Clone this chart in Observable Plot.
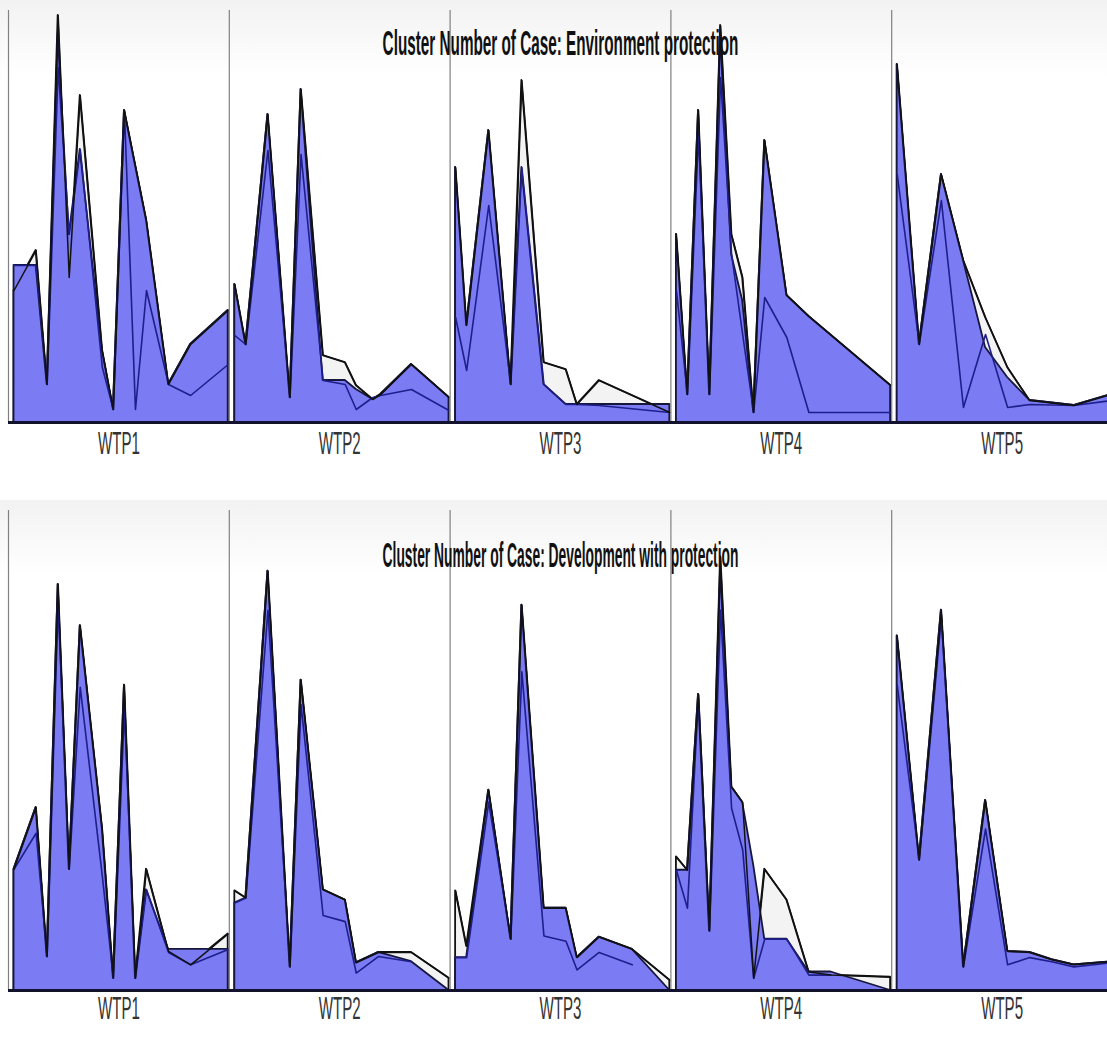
<!DOCTYPE html>
<html><head><meta charset="utf-8">
<script src="https://cdn.jsdelivr.net/npm/d3@7"></script>
<script src="https://cdn.jsdelivr.net/npm/@observablehq/plot@0.6"></script>
<style>
html,body{margin:0;padding:0;background:#fff;overflow:hidden;width:1107px;height:1038px;}
#wrap{width:1112px;}
#wrap svg{display:block;}
</style></head><body><div id="wrap"></div>
<script>
const panelLabels = ["WTP1", "WTP2", "WTP3", "WTP4", "WTP5"];
const clusterTitles = ["Cluster Number of Case: Environment protection", "Cluster Number of Case: Development with protection"];

// Cluster "Environment protection": category positions per panel and three series
const envX = [
  [0.5, 2.5, 3.5, 4.5, 5.5, 6.5, 8.5, 9.5, 10.5, 11.5, 12.5, 14.5, 16.5, 19.9],
  [0.5, 1.5, 3.5, 5.5, 6.5, 8.5, 10.5, 11.5, 13, 13.7, 16.5, 19.9],
  [0.5, 1.5, 3.5, 5.5, 6.5, 8.5, 10.5, 11.5, 13.5, 19.9],
  [0.5, 1.5, 2.5, 3.5, 4.5, 5.5, 6.5, 7.5, 8.5, 10.5, 12.5, 19.9],
  [0.5, 2.5, 4.5, 6.5, 8.5, 10.5, 12.5, 16.5, 19.9]
];
const envA = [
  [132, 172, 38, 407, 145, 327, 72, 13, 312, 257, 202, 38, 78, 112],
  [138, 78, 308, 25, 333, 67, 60, 37, 23, 28, 58, 25],
  [255, 97, 292, 38, 342, 60, 53, 18, 42, 10],
  [188, 28, 312, 28, 397, 188, 145, 10, 282, 127, 106, 37],
  [358, 78, 248, 162, 105, 55, 22, 17, 28]
];
const envB = [
  [157, 157, 38, 388, 188, 273, 72, 13, 312, 257, 202, 38, 78, 112],
  [138, 78, 308, 25, 333, 42, 42, 33, 23, 27, 58, 25],
  [255, 97, 292, 38, 255, 38, 18, 18, 18, 18],
  [188, 28, 312, 28, 388, 168, 122, 10, 282, 127, 106, 37],
  [358, 78, 248, 162, 75, 45, 22, 17, 28]
];
const envC = [
  [157, 157, 38, 355, 188, 273, 55, 13, 312, 13, 132, 38, 27, 58],
  [87, 78, 272, 25, 268, 42, 38, 13, 25, 27, 33, 12],
  [105, 52, 217, 38, 255, 38, 18, 18, 17, 10],
  [132, 28, 288, 28, 345, 168, 88, 10, 125, 85, 10, 10],
  [248, 78, 222, 15, 88, 15, 18, 17, 22]
];

// Cluster "Development with protection"
const devX = [
  [0.5, 2.5, 3.5, 4.5, 5.5, 6.5, 8.5, 9.5, 10.5, 11.5, 12.5, 14.5, 16.5, 19.9],
  [0.5, 1.5, 3.5, 5.5, 6.5, 8.5, 10.5, 11.5, 13.5, 16.5, 19.9],
  [0.5, 1.5, 3.5, 5.5, 6.5, 8.5, 10.5, 11.5, 13.5, 16.5, 19.9],
  [0.5, 1.5, 2.5, 3.5, 4.5, 5.5, 6.5, 7.5, 8.5, 10.5, 12.5, 14.5, 19.9],
  [0.5, 2.5, 4.5, 6.5, 8.5, 10.5, 12.5, 14.5, 16.5, 19.9]
];
const devA = [
  [118, 178, 33, 395, 118, 355, 157, 12, 297, 12, 118, 38, 25, 55],
  [97, 90, 408, 23, 302, 98, 88, 27, 37, 37, 12],
  [97, 43, 195, 50, 375, 80, 80, 32, 52, 40, 10],
  [130, 117, 288, 58, 422, 198, 183, 12, 118, 88, 18, 15, 13],
  [345, 127, 370, 23, 185, 38, 37, 30, 25, 28]
];
const devB = [
  [118, 178, 33, 395, 118, 355, 157, 12, 297, 12, 98, 40, 40, 40],
  [85, 90, 408, 23, 302, 98, 88, 27, 37, 28],
  [32, 32, 195, 50, 375, 80, 80, 32, 52, 40],
  [117, 117, 288, 58, 410, 198, 183, 122, 50, 50, 18, 18],
  [345, 127, 370, 23, 185, 38, 37, 30, 25, 28]
];
const devC = [
  [118, 153, 33, 377, 118, 295, 111, 12, 273, 12, 98, 37, 25, 40],
  [85, 90, 370, 23, 278, 73, 67, 17, 33, 28],
  [32, 32, 183, 50, 310, 53, 48, 20, 37, 25],
  [117, 80, 288, 58, 370, 177, 137, 12, 50, 50, 15, 15],
  [297, 127, 363, 23, 157, 25, 32, 28, 23, 27]
];

function buildRows(xs, A, B, C) {
  const rows = [];
  xs.forEach((arr, p) => arr.forEach((x, i) => rows.push({
    panel: p, x: p * 20 + x,
    a: A[p][i] ?? null, b: B[p][i] ?? null, c: C[p][i] ?? null
  })));
  return rows;
}

function makeChart(title, rows, o) {
  const labels = panelLabels.map((l, i) => ({label: l, x: i * 20 + 10}));
  return Plot.plot({
    width: 1112, height: o.height,
    marginLeft: 8, marginRight: 0, marginTop: o.mt, marginBottom: o.mb,
    x: {domain: [0, 100], axis: null},
    y: {domain: [0, o.ymax], axis: null},
    marks: [
      Plot.areaY(rows, {x: "x", y: "a", z: "panel", fill: "#f3f3f3", stroke: "#111", strokeWidth: 1.8}),
      Plot.areaY(rows, {x: "x", y: "b", z: "panel", fill: "#7b7bf3", stroke: "#17173c", strokeWidth: 1.8}),
      Plot.lineY(rows, {x: "x", y: "c", z: "panel", stroke: "#1e1e8c", strokeWidth: 1.6}),
      Plot.lineY(rows, {x: "x", y: "a", z: "panel", stroke: "#111", strokeWidth: 1.5}),
      Plot.ruleX([0, 20, 40, 60, 80], {stroke: "#808080", strokeWidth: 1.2}),
      Plot.ruleY([0], {stroke: "#12122e", strokeWidth: 3}),
      Plot.text([title], {frameAnchor: "top", dy: o.titleDy, fontWeight: "bold", fontSize: 18,
        fontFamily: "Liberation Sans, Arial, sans-serif", fill: "#111"}),
      Plot.text(labels, {x: "x", text: "label", frameAnchor: "bottom", dy: o.labelDy, fontSize: 16,
        fontFamily: "Liberation Sans, Arial, sans-serif", fill: "#333"})
    ]
  });
}

// Decorative top shading and condensed/tall text rendering like the original raster
function decorate(svg, frameTop) {
  const ns = "http://www.w3.org/2000/svg";
  const id = "grad" + Math.random().toString(36).slice(2);
  const defs = document.createElementNS(ns, "defs");
  defs.innerHTML = `<linearGradient id="${id}" x1="0" y1="0" x2="0" y2="1">
    <stop offset="0" stop-color="#f2f2f2"/><stop offset="1" stop-color="#ffffff"/></linearGradient>`;
  const rect = document.createElementNS(ns, "rect");
  rect.setAttribute("x", 0); rect.setAttribute("y", Math.max(0, frameTop - 10));
  rect.setAttribute("width", 1112); rect.setAttribute("height", 75);
  rect.setAttribute("fill", `url(#${id})`);
  svg.insertBefore(rect, svg.firstChild);
  svg.insertBefore(defs, svg.firstChild);

  svg.querySelectorAll("text").forEach(t => {
    const isTitle = t.textContent.startsWith("Cluster");
    const targetW = isTitle ? 356 : 42;
    const capH = isTitle ? 25 : 22;
    const fs = isTitle ? 18 : 16;
    const r = t.getBoundingClientRect();
    if (!r.width) return;
    const pt = svg.createSVGPoint();
    pt.x = r.x + r.width / 2; pt.y = r.y + r.height / 2;
    const local = pt.matrixTransform(t.parentNode.getScreenCTM().inverse());
    const sx = targetW / r.width, sy = capH / (0.716 * fs);
    const g = document.createElementNS(ns, "g");
    t.parentNode.insertBefore(g, t);
    g.appendChild(t);
    g.setAttribute("transform", `translate(${local.x},${local.y}) scale(${sx},${sy}) translate(${-local.x},${-local.y})`);
  });
}

const wrap = document.getElementById("wrap");
const c1 = makeChart(clusterTitles[0], buildRows(envX, envA, envB, envC),
  {height: 470, mt: 10, mb: 48, ymax: 412, titleDy: 26, labelDy: 26});
const c2 = makeChart(clusterTitles[1], buildRows(devX, devA, devB, devC),
  {height: 568, mt: 40, mb: 48, ymax: 467, titleDy: 38, labelDy: 23});
wrap.appendChild(c1);
wrap.appendChild(c2);
decorate(c1, 10);
decorate(c2, 40);
</script>
</body></html>
